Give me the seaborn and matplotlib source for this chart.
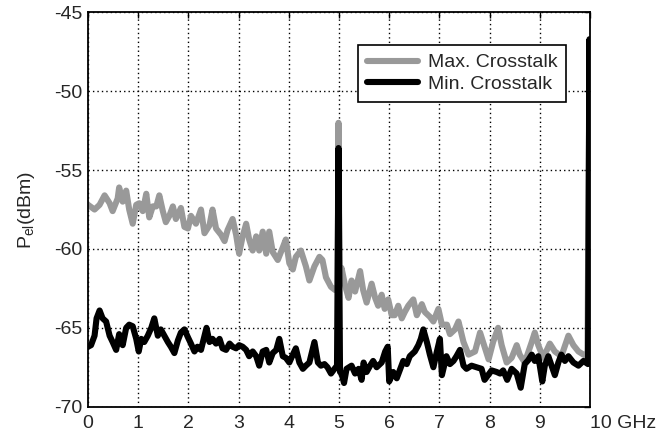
"""Electrical power spectrum for max. and min. crosstalk (seaborn line plot)."""

import matplotlib

matplotlib.use("Agg")
import matplotlib.pyplot as plt
import seaborn as sns

# Max. crosstalk trace (GHz, dBm)
freq_max = [
    0.0, 0.13, 0.23, 0.33, 0.43, 0.49, 0.59, 0.62, 0.69, 0.76, 0.82, 0.89, 0.96,
    1.02, 1.09, 1.16, 1.22, 1.29, 1.36, 1.42, 1.49, 1.55, 1.62, 1.69, 1.75, 1.85,
    1.92, 1.99, 2.05, 2.15, 2.25, 2.32, 2.42, 2.48, 2.55, 2.65, 2.72, 2.78, 2.88,
    2.95, 3.01, 3.08, 3.15, 3.21, 3.28, 3.35, 3.41, 3.48, 3.55, 3.61, 3.68, 3.78,
    3.88, 3.94, 4.01, 4.08, 4.14, 4.24, 4.34, 4.41, 4.51, 4.61, 4.67, 4.74, 4.84,
    4.92, 4.97, 4.99, 5.01, 5.05, 5.12, 5.19, 5.25, 5.32, 5.42, 5.48, 5.55, 5.65,
    5.72, 5.78, 5.85, 5.91, 5.98, 6.05, 6.11, 6.18, 6.25, 6.31, 6.38, 6.48, 6.55,
    6.65, 6.71, 6.81, 6.88, 6.98, 7.05, 7.15, 7.21, 7.31, 7.38, 7.48, 7.58, 7.71,
    7.81, 7.91, 7.98, 8.07, 8.17, 8.24, 8.34, 8.44, 8.54, 8.60, 8.70, 8.84, 8.90,
    8.97, 9.07, 9.20, 9.30, 9.43, 9.57, 9.67, 9.77, 9.87, 9.95, 9.99, 10.0,
]
pel_max = [
    -57.2, -57.5, -57.2, -56.6, -57.1, -57.6, -56.8, -56.1, -57.0, -56.3, -57.5, -58.4, -57.2,
    -57.1, -57.6, -56.5, -58.0, -57.3, -57.3, -56.6, -57.6, -58.3, -57.9, -57.3, -58.1, -57.4,
    -58.6, -58.7, -57.9, -58.4, -57.5, -59.0, -58.5, -57.5, -58.7, -59.1, -59.5, -58.8, -58.1,
    -59.1, -60.3, -59.2, -58.4, -59.4, -60.1, -59.2, -60.1, -58.9, -60.3, -58.9, -60.2, -60.7,
    -59.9, -59.4, -60.9, -61.3, -60.5, -60.1, -61.1, -62.0, -61.1, -60.5, -60.7, -61.8, -62.4,
    -62.6, -62.5, -52.0, -62.0, -61.2, -62.3, -63.1, -62.0, -62.7, -61.4, -62.6, -63.4, -62.2,
    -63.1, -63.6, -62.9, -63.8, -63.2, -64.2, -64.2, -63.6, -64.4, -64.0, -63.6, -63.2, -64.2,
    -63.5, -64.0, -64.3, -64.6, -63.8, -64.8, -64.8, -65.4, -65.1, -64.6, -65.9, -66.7, -66.5,
    -65.3, -66.3, -67.0, -65.9, -65.0, -66.1, -67.2, -66.9, -66.1, -66.7, -67.2, -65.9, -65.3,
    -66.1, -66.9, -66.0, -66.5, -66.8, -65.5, -66.1, -66.5, -66.7, -66.8, -47.5, -66.8,
]

# Min. crosstalk trace (GHz, dBm)
freq_min = [
    0.0, 0.06, 0.13, 0.17, 0.23, 0.29, 0.36, 0.43, 0.49, 0.56, 0.62, 0.69, 0.76,
    0.82, 0.89, 0.96, 1.01, 1.06, 1.12, 1.19, 1.26, 1.32, 1.39, 1.45, 1.52, 1.59,
    1.65, 1.72, 1.79, 1.85, 1.92, 1.99, 2.05, 2.12, 2.18, 2.25, 2.32, 2.36, 2.42,
    2.48, 2.55, 2.62, 2.68, 2.75, 2.82, 2.88, 2.95, 3.01, 3.08, 3.15, 3.21, 3.28,
    3.35, 3.41, 3.48, 3.55, 3.61, 3.68, 3.75, 3.81, 3.88, 3.94, 4.01, 4.08, 4.14,
    4.21, 4.28, 4.34, 4.41, 4.51, 4.58, 4.64, 4.71, 4.77, 4.84, 4.91, 4.96, 4.99,
    5.02, 5.05, 5.10, 5.15, 5.25, 5.32, 5.39, 5.45, 5.49, 5.55, 5.62, 5.68, 5.75,
    5.85, 5.92, 5.97, 6.00, 6.08, 6.15, 6.22, 6.28, 6.35, 6.41, 6.51, 6.58, 6.63,
    6.68, 6.75, 6.81, 6.88, 6.95, 7.01, 7.05, 7.14, 7.21, 7.28, 7.34, 7.41, 7.48,
    7.54, 7.64, 7.74, 7.84, 7.90, 8.04, 8.14, 8.21, 8.27, 8.35, 8.44, 8.54, 8.62,
    8.70, 8.77, 8.84, 8.90, 8.97, 9.05, 9.10, 9.17, 9.30, 9.37, 9.43, 9.50, 9.57,
    9.67, 9.77, 9.87, 9.96, 9.99, 10.0,
]
pel_min = [
    -66.2, -66.1, -65.5, -64.4, -63.9, -64.4, -64.6, -65.5, -65.9, -66.4, -65.4, -66.1, -65.0,
    -64.8, -64.9, -65.7, -66.5, -65.7, -65.9, -65.5, -65.0, -64.4, -65.5, -65.1, -65.5, -65.9,
    -66.2, -66.6, -65.8, -65.3, -65.1, -65.6, -66.0, -66.5, -66.2, -66.4, -65.5, -65.0, -65.9,
    -65.7, -66.0, -65.7, -66.3, -66.4, -66.0, -66.2, -66.3, -66.1, -66.2, -66.4, -66.8, -66.5,
    -66.8, -67.4, -66.5, -66.4, -67.2, -66.6, -66.4, -65.7, -66.8, -66.9, -67.2, -66.7, -66.3,
    -67.2, -67.6, -67.4, -67.2, -65.9, -67.2, -67.4, -67.3, -67.5, -67.9, -67.6, -67.4, -53.6,
    -67.8, -67.9, -68.5, -67.6, -67.4, -67.9, -67.6, -68.3, -67.2, -67.8, -67.4, -67.1, -67.5,
    -67.2, -66.5, -66.2, -68.4, -67.8, -68.2, -67.6, -67.1, -67.3, -66.8, -66.5, -66.1, -65.7,
    -65.1, -65.9, -66.7, -67.5, -66.5, -65.7, -68.0, -66.8, -67.3, -67.1, -66.8, -66.4, -67.4,
    -67.6, -67.4, -67.5, -67.6, -68.3, -67.7, -67.8, -67.9, -67.7, -68.3, -67.6, -67.9, -68.8,
    -67.3, -67.05, -66.7, -67.1, -66.8, -68.4, -67.4, -66.8, -68.0, -67.2, -66.7, -67.1, -66.8,
    -67.2, -67.4, -67.1, -67.3, -46.7, -67.0,
]

x_ticks = list(range(11))
x_tick_labels = ["0", "1", "2", "3", "4", "5", "6", "7", "8", "9", "10 GHz"]
y_ticks = [-70, -65, -60, -55, -50, -45]

sns.set_theme(style="white")
plt.rcParams["font.family"] = ["Liberation Sans", "DejaVu Sans"]
plt.rcParams["mathtext.fontset"] = "custom"
plt.rcParams["mathtext.rm"] = "Liberation Sans"
plt.rcParams["axes.unicode_minus"] = False

fig = plt.figure(figsize=(6.57, 4.43), dpi=100)
ax = fig.add_axes([0.134, 0.082, 0.764, 0.89])

sns.lineplot(x=freq_max, y=pel_max, color="#999999", lw=4.4, sort=False,
             estimator=None, label="Max. Crosstalk", ax=ax)
sns.lineplot(x=freq_min, y=pel_min, color="black", lw=4.4, sort=False,
             estimator=None, label="Min. Crosstalk", ax=ax)

ax.set_xlim(0, 10)
ax.set_ylim(-70, -45)
ax.set_xticks(x_ticks)
ax.set_xticklabels(x_tick_labels)
ax.get_xticklabels()[-1].set_horizontalalignment("left")
ax.set_yticks(y_ticks)
ax.set_xlabel("")
ax.set_ylabel(r"P$_{\mathrm{el}}$(dBm)", fontsize=14, labelpad=12)

ax.grid(True, color="black", linestyle=(0, (1, 2.2)), linewidth=1.0)
ax.tick_params(axis="both", labelsize=14, direction="in", length=4,
               width=1, color="black", top=True, right=True)
ax.tick_params(axis="x", pad=6)
ax.tick_params(axis="y", pad=4)
for spine in ax.spines.values():
    spine.set_color("black")
    spine.set_linewidth(1.3)

leg = ax.legend(loc="upper right", bbox_to_anchor=(0.952, 0.917),
                borderaxespad=0, fontsize=14, frameon=True, fancybox=False,
                handlelength=2.6, handletextpad=0.5, labelspacing=0.2,
                borderpad=0.45)
leg.get_frame().set_edgecolor("black")
leg.get_frame().set_linewidth(1.2)
leg.get_frame().set_alpha(1)

fig.savefig("out.png", dpi=100)
